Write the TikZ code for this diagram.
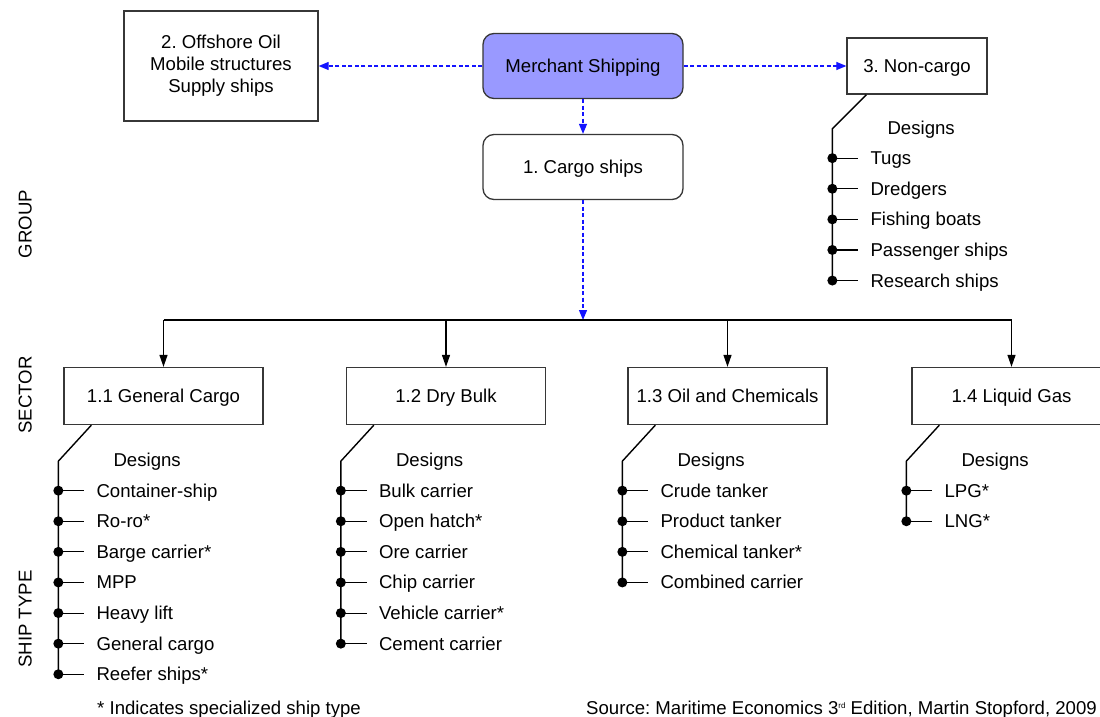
\documentclass[tikz,border=0pt]{standalone}
\usepackage{fontspec}
\setmainfont{Liberation Sans}
\usetikzlibrary{arrows.meta,calc}
\definecolor{boxline}{RGB}{55,55,55}
\definecolor{merchfill}{RGB}{153,153,255}
\definecolor{linkblue}{RGB}{20,20,255}

% a design list hanging below a box: box name, knee offset, spine offset, drop, items
\newcommand\buildtree[5]{%
  \coordinate (#1k) at ($(#1.south west)+(#2,0)$);
  \coordinate (#1t) at ($(#1.south west)+(#3,#4)$);
  \node[item] (#1d) at ($(#1t)+(55,-1)$) {Designs};
  \foreach \t [count=\i] in {#5} {
    \node[dot] (#1p\i) at ($(#1t)+(0,{29.5+30.6*(\i-1)})$) {};
    \node[item] (#1i\i) at ($(#1p\i)+(38,0)$) {\t};
    \draw[tick] (#1p\i.center) -- ([xshift=-12pt]#1i\i.west);
    \xdef\lastdot{#1p\i}
  }
  \draw[spine] (#1k) -- (#1t) -- (\lastdot.center);
}

\begin{document}
\frenchspacing
\begin{tikzpicture}[x=1pt,y=-1pt,
  every node/.style={font=\fontsize{18.6}{22}\selectfont},
  box/.style={draw=boxline,line width=1.3pt,inner sep=0pt,align=center},
  rbox/.style={box,rounded corners=11pt,minimum width=200pt,minimum height=65pt,
    text height=13pt,text depth=0pt},
  secbox/.style={box,minimum width=199pt,minimum height=57pt,text height=13pt,text depth=0pt},
  item/.style={anchor=west,inner sep=0pt,text height=13pt,text depth=0pt},
  axis/.style={rotate=90,inner sep=0pt,text height=13pt,text depth=0pt},
  spine/.style={line width=1.4pt,black},
  tick/.style={line width=1.1pt,black},
  dot/.style={circle,fill=black,inner sep=0pt,minimum size=10pt},
  link/.style={draw=linkblue,line width=1.2pt,dash pattern=on 4pt off 2.5pt,
    -{Triangle[length=10pt,width=8pt]}},
  feed/.style={line width=1.2pt,-{Triangle[length=12pt,width=8pt]}}
]
\useasboundingbox (0,0) rectangle (1100,717);
\fill[white] (0,0) rectangle (1100,717);

% group level
\node[rbox,fill=merchfill] (merch) at (583,66) {Merchant Shipping};
\node[rbox] (cargo) at (583,167) {1. Cargo ships};
\node[box,minimum width=194pt,minimum height=110pt] (off) at (221,66)
  {2. Offshore Oil\\Mobile structures\\Supply ships};
\node[box,minimum width=140pt,minimum height=56pt,text height=13pt,text depth=0pt] (nc) at (917,66)
  {3. Non-cargo};

\draw[link] (merch.west) -- (off.east);
\draw[link] (merch.east) -- (nc.west);
\draw[link] (merch.south) -- (cargo.north);

% sector level
\node[secbox] (s1) at (163.5,396) {1.1 General Cargo};
\node[secbox] (s2) at (446,396) {1.2 Dry Bulk};
\node[secbox] (s3) at (727.5,396) {1.3 Oil and Chemicals};
\node[secbox] (s4) at (1011.5,396) {1.4 Liquid Gas};

\coordinate (bus) at (583,320);
\draw[link] (cargo.south) -- (bus);
\foreach \s in {s1,s2,s3,s4} {
  \coordinate (\s b) at (\s.north |- bus);
  \draw[feed] (\s b) -- (\s.north);
}
\draw[line width=1.2pt] (s1b) -- (s4b);

% ship type level
\buildtree{nc}{20}{-14}{34}{Tugs,Dredgers,Fishing boats,Passenger ships,Research ships}
\buildtree{s1}{28}{-5}{36}{Container-ship,Ro-ro*,Barge carrier*,MPP,Heavy lift,General cargo,Reefer ships*}
\buildtree{s2}{28}{-5}{36}{Bulk carrier,Open hatch*,Ore carrier,Chip carrier,Vehicle carrier*,Cement carrier}
\buildtree{s3}{28}{-5}{36}{Crude tanker,Product tanker,Chemical tanker*,Combined carrier}
\buildtree{s4}{28}{-5}{36}{LPG*,LNG*}

% level captions
\node[axis] (lgroup) at (25,224) {GROUP};
\node[axis] (lsector) at (25,395) {SECTOR};
\node[axis] (lship) at (25,619) {SHIP TYPE};

% notes
\node[item] (note) at (97,708) {* Indicates specialized ship type};
\node[item,anchor=east] (src) at (1097,708)
  {Source: Maritime Economics 3\raisebox{6pt}{\fontsize{8}{8}\selectfont rd} Edition, Martin Stopford, 2009};
\end{tikzpicture}
\end{document}
